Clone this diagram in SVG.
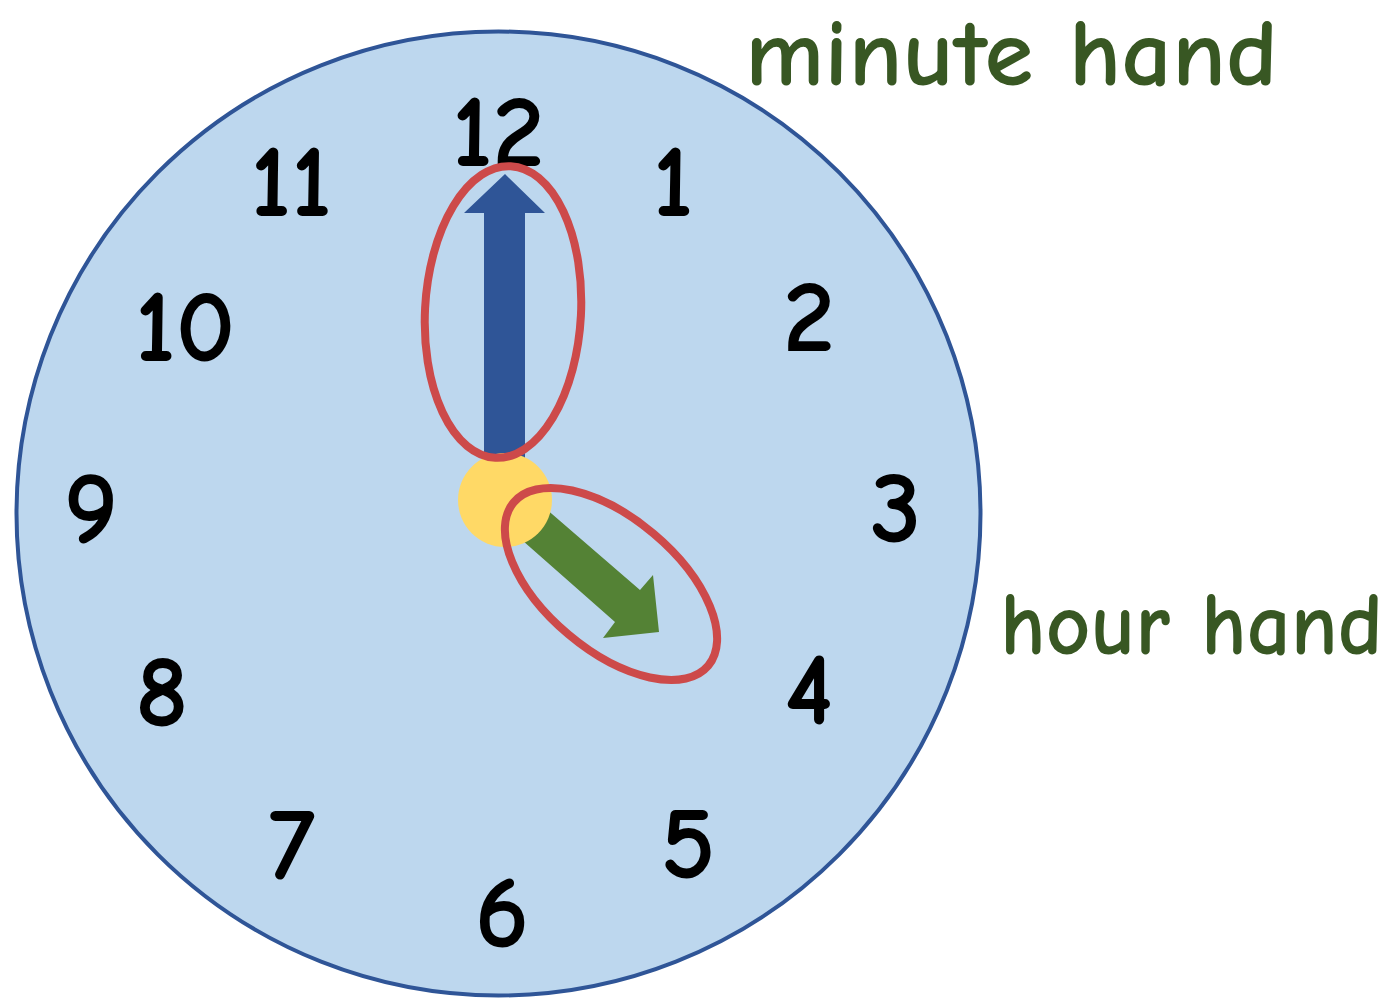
<svg xmlns="http://www.w3.org/2000/svg" width="1395" height="1000" viewBox="0 0 1395 1000">
<style>
.num{font-family:"Comic Sans MS","Comic Neue","Liberation Sans",sans-serif;font-size:104px;font-weight:700;fill:#000;text-anchor:middle}
.lbl{font-family:"Comic Sans MS","Comic Neue","Liberation Sans",sans-serif;fill:#385723;font-weight:700}
.ring{fill:none;stroke:#CD4A4A;stroke-width:8}
</style>
<rect width="1395" height="1000" fill="#fff"/>
<g id="clock-face">
<circle cx="498.5" cy="513.5" r="482" fill="#BDD7EE" stroke="#2F5597" stroke-width="4"/>
</g>
<g id="numbers">
<text class="num" x="498" y="166">12</text>
<text class="num" x="673" y="216">1</text>
<text class="num" x="809" y="351">2</text>
<text class="num" x="896" y="542">3</text>
<text class="num" x="809" y="724">4</text>
<text class="num" x="688" y="878">5</text>
<text class="num" x="502" y="947">6</text>
<text class="num" x="292" y="879">7</text>
<text class="num" x="162" y="726">8</text>
<text class="num" x="91" y="543">9</text>
<text class="num" x="185" y="361">10</text>
<text class="num" x="291" y="216">11</text>
</g>
<g id="connectors">
<polygon id="minute-hand-arrow" points="484,470 484,213 464,213 505,174 545,213 525,213 525,470" fill="#2F5597"/>
<polygon id="hour-hand-arrow" points="530,495 640,590 653,575 659,632 603,638 615,622 505,525" fill="#548235"/>
</g>
<g id="hub">
<circle cx="505" cy="500" r="47" fill="#FFD966"/>
</g>
<g id="minute-ring">
<ellipse class="ring" cx="503" cy="312" rx="78" ry="146" transform="rotate(3 503 312)"/>
</g>
<g id="hour-ring">
<ellipse class="ring" cx="611" cy="584" rx="127" ry="66" transform="rotate(40 611 584)"/>
</g>
<g id="minute-label">
<text class="lbl" x="745" y="85" font-size="96" textLength="533" lengthAdjust="spacingAndGlyphs">minute hand</text>
</g>
<g id="hour-label">
<text class="lbl" x="1000" y="654" font-size="88" textLength="383" lengthAdjust="spacingAndGlyphs">hour hand</text>
</g>
</svg>
